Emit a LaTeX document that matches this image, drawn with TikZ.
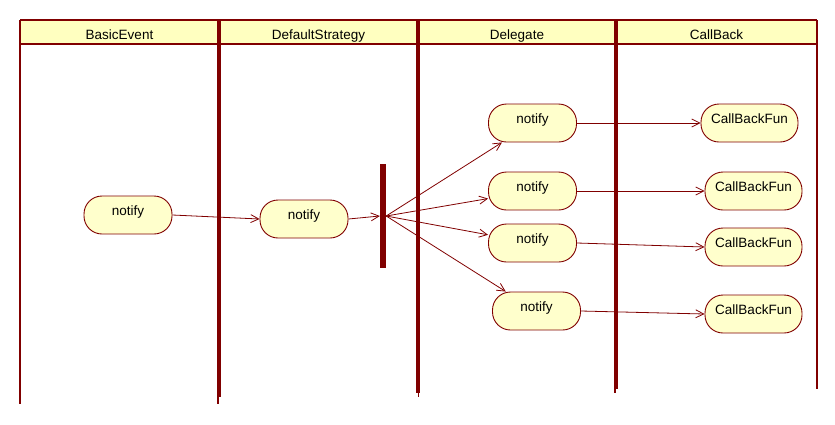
\documentclass[tikz,border=0pt]{standalone}
\usepackage{fontspec}
\setmainfont{Liberation Sans}
\usetikzlibrary{arrows.meta}
\definecolor{lanered}{RGB}{128,0,0}
\definecolor{headfill}{RGB}{255,255,192}
\definecolor{actfill}{RGB}{255,255,204}
\tikzset{
  act/.style={draw=lanered, line width=0.9pt, fill=actfill, rectangle, rounded corners=18pt,
    minimum height=38pt, inner sep=0pt, text height=0pt, text depth=0pt, font=\fontsize{13.5}{14}\selectfont},
  actn/.style={act, minimum width=88pt},
  actc/.style={act, minimum width=97pt},
  flow/.style={draw=lanered, line width=0.8pt, -{Straight Barb[length=8pt,width=8pt,line width=0.8pt]}},
  lanehead/.style={font=\fontsize{13.5}{14}\selectfont, anchor=base, inner sep=0pt},
  thin/.style={draw=lanered, line width=1.6pt},
  thick/.style={draw=lanered, line width=4pt},
}
\begin{document}
\begin{tikzpicture}[x=1pt,y=-1pt]
\useasboundingbox (0,0) rectangle (835,424);
% header
\fill[headfill] (20,20) rectangle (817,44);
\draw[thin] (20,20) -- (817,20);
\draw[thin] (20,44) -- (817,44);
% lane lines
\draw[thin] (20,20) -- (20,404);
\draw[thick] (219,20) -- (219,397);
\draw[thin] (218,397) -- (218,404);
\draw[thick] (418,20) -- (418,393);
\draw[thin] (418.5,393) -- (418.5,397);
\draw[thick] (616,20) -- (616,389);
\draw[thin] (615,389) -- (615,393);
\draw[thin] (817,20) -- (817,389);
% headers
\node[lanehead] (h1) at (119.5,39) {BasicEvent};
\node[lanehead] (h2) at (318.5,39) {DefaultStrategy};
\node[lanehead] (h3) at (517,39) {Delegate};
\node[lanehead] (h4) at (716.5,39) {CallBack};
% activities
\node[actn] (be) at (128,215) {notify};
\node[actn] (ds) at (304,219) {notify};
\node[draw=none, fill=lanered, minimum width=6pt, minimum height=104pt, inner sep=0pt] (fork) at (383,216) {};
\node[actn] (d1) at (532.5,123) {notify};
\node[actn] (d2) at (532.5,191) {notify};
\node[actn] (d3) at (532.5,243) {notify};
\node[actn] (d4) at (536.5,311) {notify};
\node[actc] (c1) at (749.5,123) {CallBackFun};
\node[actc] (c2) at (753.5,191) {CallBackFun};
\node[actc] (c3) at (753.5,247) {CallBackFun};
\node[actc] (c4) at (753.5,314) {CallBackFun};
% flows
\draw[flow] (be.east) -- (ds.west);
\draw[flow] (ds.east) -- (fork.west);
\draw[flow] (fork.east) -- (d1);
\draw[flow] (fork.east) -- (d2);
\draw[flow] (fork.east) -- (d3);
\draw[flow] (fork.east) -- (d4);
\draw[flow] (d1.east) -- (c1.west);
\draw[flow] (d2.east) -- (c2.west);
\draw[flow] (d3.east) -- (c3.west);
\draw[flow] (d4.east) -- (c4.west);
\end{tikzpicture}
\end{document}
